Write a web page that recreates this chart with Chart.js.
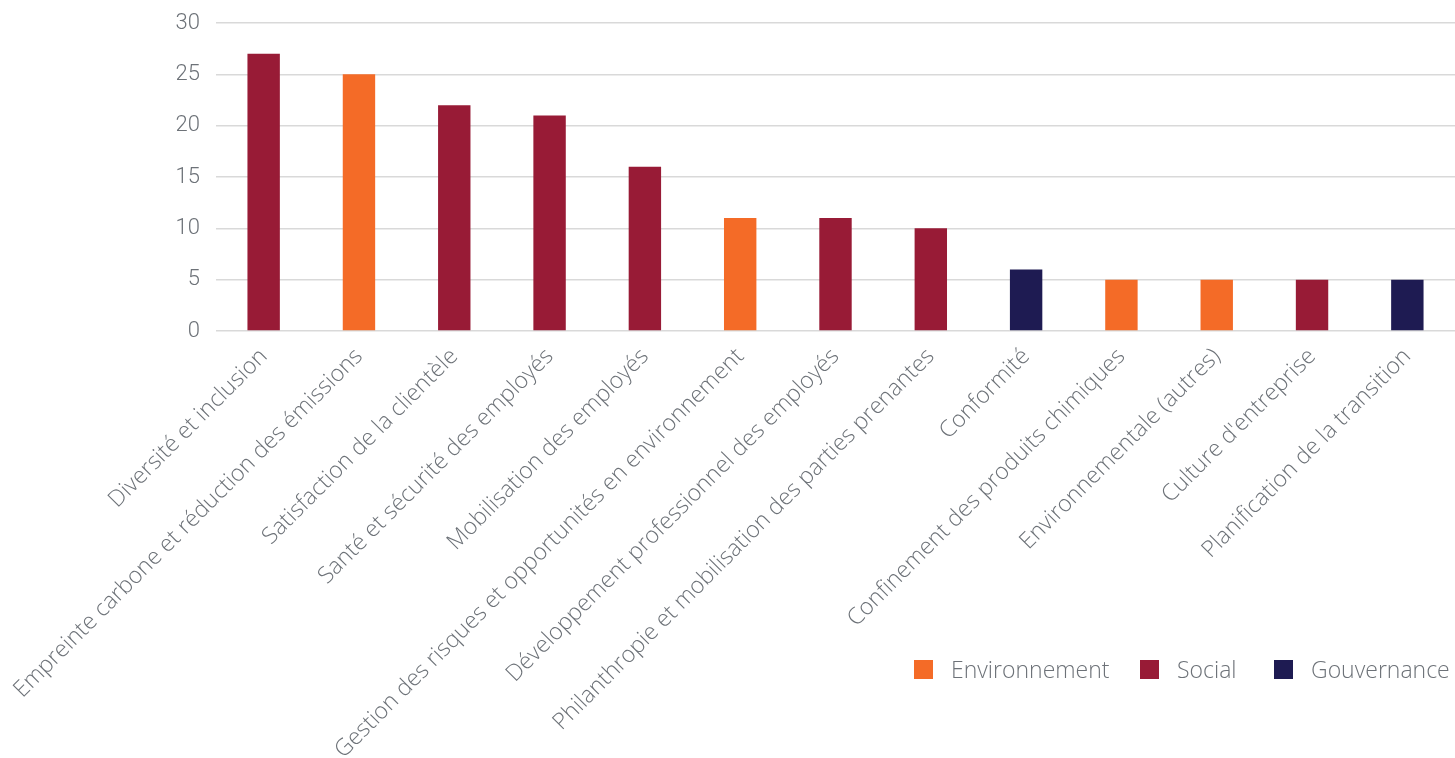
<!DOCTYPE html>
<html lang="fr">
<head>
<meta charset="utf-8">
<script src="https://cdn.jsdelivr.net/npm/chart.js@4.4.1/dist/chart.umd.min.js"></script>
<style>
  html, body { margin: 0; padding: 0; background: #fff; }
  .wrap { position: relative; width: 1455px; height: 758px; }
  .legend span { position: absolute; top: 655px; display: flex; align-items: center; height: 28px; font-family: 'Open Sans', sans-serif; font-weight: 300; font-size: 23px; color: #6d7278; white-space: nowrap; }
  .legend i { display: inline-block; width: 19px; height: 19px; margin-right: 18px; }
</style>
</head>
<body>
<div class="wrap">
  <canvas id="esgChart" width="1455" height="758"></canvas>
  <div class="legend" id="legend"></div>
</div>
<script>
const categories = [
    'Diversité et inclusion',
    'Empreinte carbone et réduction des émissions',
    'Satisfaction de la clientèle',
    'Santé et sécurité des employés',
    'Mobilisation des employés',
    'Gestion des risques et opportunités en environnement',
    'Développement professionnel des employés',
    'Philanthropie et mobilisation des parties prenantes',
    'Conformité',
    'Confinement des produits chimiques',
    'Environnementale (autres)',
    "Culture d'entreprise",
    'Planification de la transition'
];
const values = [27, 25, 22, 21, 16, 11, 11, 10, 6, 5, 5, 5, 5];
const groups = ['S', 'E', 'S', 'S', 'S', 'E', 'S', 'S', 'G', 'E', 'E', 'S', 'G'];
const yTicks = [0, 5, 10, 15, 20, 25, 30];

const groupNames  = { E: 'Environnement', S: 'Social', G: 'Gouvernance' };
const groupColors = { E: '#f46b27', S: '#981b36', G: '#1e1b52' };

document.addEventListener('DOMContentLoaded', function () {

    Chart.defaults.font.family = "'Open Sans', sans-serif";
    Chart.defaults.color = '#6d7278';

    // ── legend (html) ──
    const lg = document.getElementById('legend');
    const lgLeft = { E: 914, S: 1140, G: 1274 };
    ['E', 'S', 'G'].forEach(function (g) {
        const s = document.createElement('span');
        s.style.left = lgLeft[g] + 'px';
        s.innerHTML = '<i style="background:' + groupColors[g] + '"></i>' + groupNames[g];
        lg.appendChild(s);
    });

    new Chart(document.getElementById('esgChart'), {
        type: 'bar',
        data: {
            labels: categories,
            datasets: [{
                data: values,
                backgroundColor: groups.map(g => groupColors[g]),
                barPercentage: 0.34,
                categoryPercentage: 1,
            }]
        },
        options: {
            responsive: false,
            animation: false,
            layout: { padding: { top: 23, right: 0, left: 0, bottom: 0 } },
            plugins: { legend: { display: false }, tooltip: { enabled: false } },
            scales: {
                x: {
                    grid: { display: false },
                    border: { display: false },
                    ticks: {
                        font: { size: 23, weight: '300' },
                        minRotation: 45,
                        maxRotation: 45,
                        padding: 4,
                        autoSkip: false
                    },
                    afterFit: function (s) {
                        s.height = 427;
                        s.paddingLeft = 0;
                        s.paddingRight = 0;
                    }
                },
                y: {
                    min: 0,
                    max: 30,
                    afterBuildTicks: function (s) { s.ticks = yTicks.map(v => ({ value: v })); },
                    border: { display: false },
                    grid: { color: '#d9d9d9', lineWidth: 1.5, drawTicks: false },
                    ticks: { font: { family: "'Roboto', sans-serif", size: 22, weight: '300' }, padding: 16 },
                    afterFit: function (s) {
                        s.width = 216;
                        s.paddingTop = 0;
                        s.paddingBottom = 0;
                    }
                }
            }
        }
    });
});
</script>
</body>
</html>
